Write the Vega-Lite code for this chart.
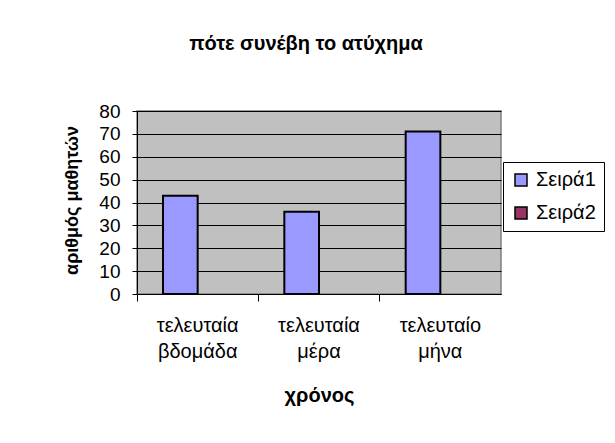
{
  "$schema": "https://vega.github.io/schema/vega-lite/v6.json",
  "autosize": {"type": "none"},
  "width": 364,
  "height": 183,
  "padding": {"left": 137, "top": 111, "right": 114, "bottom": 149},
  "background": "white",
  "title": {
    "text": "πότε συνέβη το ατύχημα",
    "fontSize": 20,
    "fontWeight": "bold",
    "color": "black",
    "anchor": "middle",
    "frame": "group",
    "dx": -13,
    "offset": 38,
    "baseline": "middle"
  },
  "data": {
    "values": [
      {"cat": "τελευταία βδομάδα", "series": "Σειρά1", "value": 43},
      {"cat": "τελευταία μέρα", "series": "Σειρά1", "value": 36},
      {"cat": "τελευταίο μήνα", "series": "Σειρά1", "value": 71}
    ]
  },
  "layer": [
    {
      "mark": {"type": "bar", "stroke": "black", "strokeWidth": 2},
      "encoding": {
        "x": {
          "field": "cat",
          "type": "nominal",
          "sort": null,
          "scale": {"paddingInner": 0.4286, "paddingOuter": 0.2143},
          "axis": {
            "orient": "bottom",
            "title": "χρόνος",
            "titleFontSize": 20,
            "titleFontWeight": "bold",
            "titleColor": "black",
            "titleX": 182,
            "titleY": 101,
            "titleBaseline": "middle",
            "titleAlign": "center",
            "labelExpr": "split(datum.label, ' ')",
            "labelAngle": 0,
            "labelFontSize": 20,
            "labelLineHeight": 26,
            "labelColor": "black",
            "labelBaseline": "top",
            "labelPadding": 21,
            "labelLimit": 200,
            "ticks": false,
            "domainColor": "black",
            "grid": false
          }
        },
        "xOffset": {
          "field": "series",
          "type": "nominal",
          "scale": {"domain": ["Σειρά1", "Σειρά2"], "paddingInner": 0, "paddingOuter": 0}
        },
        "y": {
          "field": "value",
          "type": "quantitative",
          "scale": {"domain": [0, 80], "nice": false},
          "axis": {
            "title": "αριθμός μαθητών",
            "titleFontSize": 18,
            "titleFontWeight": "bold",
            "titleColor": "black",
            "titleAngle": 270,
            "titleX": -65,
            "titleY": 89,
            "titleBaseline": "middle",
            "titleAlign": "center",
            "values": [0, 10, 20, 30, 40, 50, 60, 70, 80],
            "labelFontSize": 19,
            "labelColor": "black",
            "labelPadding": 12,
            "labelOverlap": false,
            "tickSize": 5,
            "tickColor": "black",
            "domainColor": "black",
            "grid": true,
            "gridColor": "black",
            "gridWidth": 1
          }
        },
        "color": {
          "field": "series",
          "type": "nominal",
          "scale": {"domain": ["Σειρά1", "Σειρά2"], "range": ["#9999FF", "#993366"]},
          "legend": {
            "orient": "none",
            "legendX": 366,
            "legendY": 51,
            "title": null,
            "symbolType": "square",
            "symbolSize": 144,
            "symbolStrokeColor": "black",
            "symbolStrokeWidth": 1.5,
            "symbolOpacity": 1,
            "labelFontSize": 20,
            "labelColor": "black",
            "labelOffset": 5,
            "strokeColor": "black",
            "fillColor": "white",
            "padding": 8,
            "rowPadding": 13
          }
        }
      }
    },
    {
      "mark": {"type": "bar", "opacity": 0},
      "encoding": {
        "x": {
          "field": "cat",
          "type": "nominal",
          "sort": null,
          "axis": {
            "orient": "bottom",
            "title": null,
            "labels": false,
            "ticks": true,
            "tickSize": 7,
            "tickColor": "black",
            "bandPosition": -0.375,
            "domainColor": "black",
            "grid": false
          }
        },
        "y": {
          "field": "value",
          "type": "quantitative",
          "axis": {
            "title": "αριθμός μαθητών",
            "titleFontSize": 18,
            "titleFontWeight": "bold",
            "titleColor": "black",
            "titleAngle": 270,
            "titleX": -65,
            "titleY": 89,
            "titleBaseline": "middle",
            "titleAlign": "center",
            "values": [0, 10, 20, 30, 40, 50, 60, 70, 80],
            "labelFontSize": 19,
            "labelColor": "black",
            "labelPadding": 12,
            "labelOverlap": false,
            "tickSize": 5,
            "tickColor": "black",
            "domainColor": "black",
            "grid": true,
            "gridColor": "black",
            "gridWidth": 1
          }
        }
      }
    }
  ],
  "resolve": {"axis": {"x": "independent"}},
  "config": {
    "font": "Liberation Sans",
    "view": {"fill": "#C0C0C0", "stroke": "#808080", "strokeWidth": 1.5}
  }
}
